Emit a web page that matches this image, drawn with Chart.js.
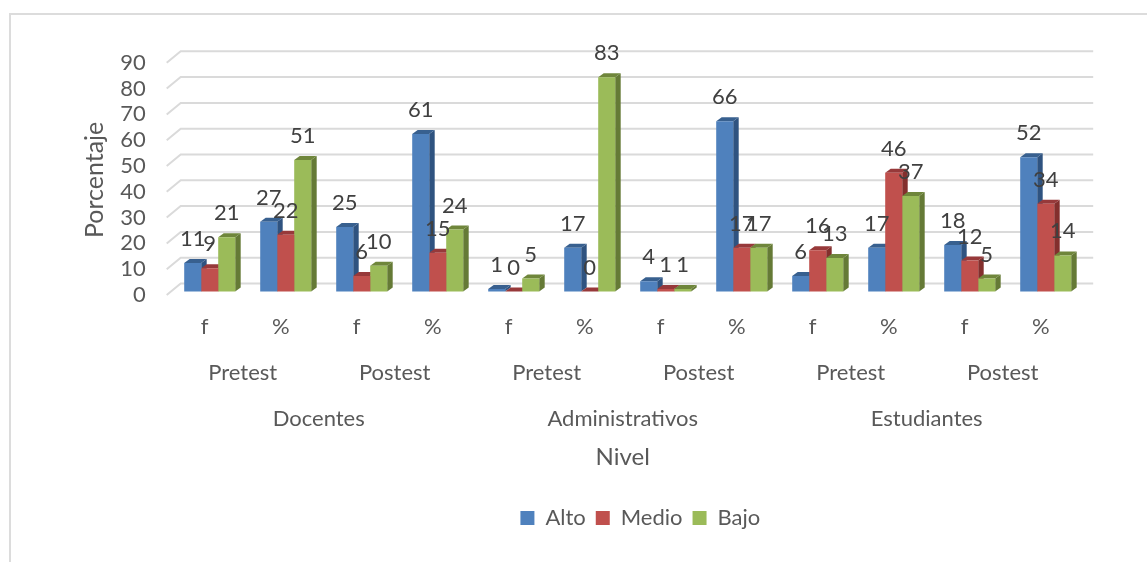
<!DOCTYPE html>
<html>
<head>
<meta charset="utf-8">
<title>Nivel</title>
<script src="https://cdn.jsdelivr.net/npm/chart.js@4.4.1/dist/chart.umd.js"></script>
<style>
  html,body{margin:0;padding:0;background:#fff;overflow:hidden;}
  #wrap{position:relative;width:1147px;height:562px;}
  #frame{position:absolute;left:9px;top:13px;right:0;bottom:0;border-left:2px solid #dcdcdc;border-top:2px solid #dcdcdc;pointer-events:none;}
</style>
</head>
<body>
<div id="wrap">
  <canvas id="chart" width="1147" height="562"></canvas>
  <div id="frame"></div>
</div>
<script>
const categories = ["f","%","f","%","f","%","f","%","f","%","f","%"];
const fases = ["Pretest","Postest","Pretest","Postest","Pretest","Postest"];
const grupos = ["Docentes","Administrativos","Estudiantes"];

const alto  = [11,27,25,61,1,17,4,66,6,17,18,52];
const medio = [9,22,6,15,0,0,1,17,16,46,12,34];
const bajo  = [21,51,10,24,5,83,1,17,13,37,5,14];

const yTicks = [0,10,20,30,40,50,60,70,80,90];

const FONT = "Lato";
const GRAY = "#595959";

/* colores: frente, lado, tapa */
const blue  = ["#4F81BD","#2F5380","#38608F"];
const red   = ["#C0504D","#832F2D","#97393A"];
const green = ["#9BBB59","#657A36","#6F863B"];
const shades = [blue,red,green];

/* profundidad 3D */
const DX = 5.5, DY = 4;

function poly(ctx, pts, color){
  ctx.fillStyle = color;
  ctx.beginPath();
  pts.forEach((p,i)=> i ? ctx.lineTo(p[0],p[1]) : ctx.moveTo(p[0],p[1]));
  ctx.closePath();
  ctx.fill();
}

const fake3d = {
  id:"fake3d",
  afterLayout(chart){
    /* la leyenda va algo a la derecha del centro */
    chart.legend.left += 58.5;
    chart.legend.right += 58.5;
    /* titulos de ejes: mover solo la caja, los ticks ya estan calculados */
    chart.scales.x2.left -= 5;
    chart.scales.x2.right -= 5;
    chart.scales.y.top += 4.5;
    chart.scales.y.bottom += 4.5;
  },
  beforeDatasetsDraw(chart){
    const ctx = chart.ctx;
    const y = chart.scales.y;
    const {left,right} = chart.chartArea;

    /* rejilla: pared del fondo y piso */
    ctx.save();
    ctx.strokeStyle = "#DADADA";
    ctx.lineWidth = 2;
    yTicks.forEach(v=>{
      const py = y.getPixelForValue(v);
      ctx.beginPath();
      ctx.moveTo(left-5, py+3.5);
      ctx.lineTo(left+9, py-8);
      ctx.lineTo(right+9.5, py-8);
      ctx.stroke();
    });

    /* lados y tapas, antes de los frentes */
    chart.data.datasets.forEach((ds,i)=>{
      const c = shades[i];
      chart.getDatasetMeta(i).data.forEach(b=>{
        const x0 = b.x-b.width/2, x1 = b.x+b.width/2;
        poly(ctx,[[x1,b.y],[x1+DX,b.y-DY],[x1+DX,b.base-DY],[x1,b.base]],c[1]);
        poly(ctx,[[x0,b.y],[x0+DX,b.y-DY],[x1+DX,b.y-DY],[x1,b.y]],c[2]);
      });
    });
    ctx.restore();
  },
  afterDatasetsDraw(chart){
    /* etiquetas de datos */
    const ctx = chart.ctx;
    ctx.save();
    ctx.fillStyle = "#404040";
    ctx.font = `22px ${FONT}`;
    ctx.textAlign = "center";
    ctx.textBaseline = "middle";
    chart.data.datasets.forEach((ds,i)=>{
      chart.getDatasetMeta(i).data.forEach((b,j)=>{
        ctx.fillText(ds.data[j], b.x, b.y-24);
      });
    });
    ctx.restore();
  }
};

const tickFont = {family:FONT,size:22};
const noGrid = {display:false,drawTicks:false};

new Chart(document.getElementById("chart"),{
  type:"bar",
  data:{
    labels:categories,
    datasets:[
      {label:"Alto",data:alto,backgroundColor:blue[0]},
      {label:"Medio",data:medio,backgroundColor:red[0]},
      {label:"Bajo",data:bajo,backgroundColor:green[0]}
    ]
  },
  options:{
    responsive:false,
    animation:false,
    categoryPercentage:0.671,
    barPercentage:1,
    layout:{padding:{top:59.3,right:63.3,bottom:23,left:80}},
    plugins:{
      tooltip:{enabled:false},
      legend:{
        position:"bottom",
        labels:{boxWidth:14,boxHeight:14,padding:10,color:GRAY,font:{family:FONT,size:22}}
      }
    },
    scales:{
      y:{
        min:0,max:90,
        afterFit(s){s.width=91.7;},
        afterBuildTicks(s){s.ticks=yTicks.map(v=>({value:v}));},
        grid:noGrid,
        border:{display:false},
        ticks:{color:GRAY,font:tickFont,padding:26,labelOffset:3.5,autoSkip:false},
        title:{display:true,text:"Porcentaje",color:GRAY,font:{family:FONT,size:25},padding:{top:0,bottom:0}}
      },
      x:{
        afterFit(s){s.height=58;},
        grid:noGrid,
        border:{display:false},
        ticks:{color:GRAY,font:tickFont,padding:22,labelOffset:-5,maxRotation:0,autoSkip:false}
      },
      x1:{
        type:"category",position:"bottom",labels:fases,offset:true,
        afterFit(s){s.height=46;},
        grid:noGrid,
        border:{display:false},
        ticks:{color:GRAY,font:tickFont,padding:10.3,labelOffset:-5,maxRotation:0,autoSkip:false}
      },
      x2:{
        type:"category",position:"bottom",labels:grupos,offset:true,
        afterFit(s){s.height=101.5;},
        grid:noGrid,
        border:{display:false},
        ticks:{color:GRAY,font:tickFont,padding:10.3,labelOffset:-5,maxRotation:0,autoSkip:false},
        title:{display:true,text:"Nivel",color:GRAY,font:{family:FONT,size:24},padding:{top:0,bottom:25}}
      }
    }
  },
  plugins:[fake3d]
});
</script>
</body>
</html>
